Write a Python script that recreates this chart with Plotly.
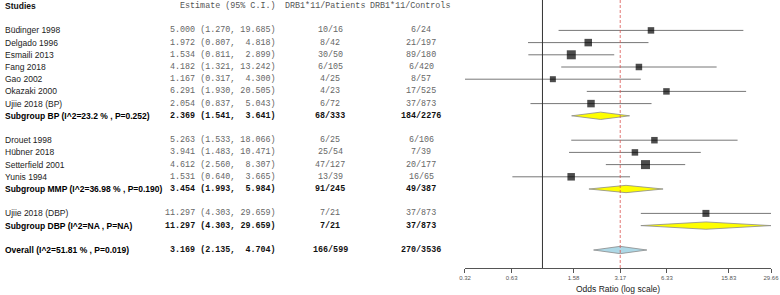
import math
import plotly.graph_objects as go

# ---------------- data ----------------
study_names = ["Büdinger 1998", "Delgado 1996", "Esmaili 2013", "Fang 2018", "Gao 2002",
               "Okazaki 2000", "Ujiie 2018 (BP)",
               "Drouet 1998", "Hübner 2018", "Setterfield 2001", "Yunis 1994",
               "Ujiie 2018 (DBP)"]
study_est = [5.000, 1.972, 1.534, 4.182, 1.167, 6.291, 2.054, 5.263, 3.941, 4.612, 1.531, 11.297]
study_lo = [1.270, 0.807, 0.811, 1.321, 0.317, 1.930, 0.837, 1.533, 1.483, 2.560, 0.640, 4.303]
study_hi = [19.685, 4.818, 2.899, 13.242, 4.300, 20.505, 5.043, 18.066, 10.471, 8.307, 3.665, 29.659]
study_patients = ["10/16", "8/42", "30/50", "6/105", "4/25", "4/23", "6/72",
                  "6/25", "25/54", "47/127", "13/39", "7/21"]
study_controls = ["6/24", "21/197", "89/180", "6/420", "8/57", "17/525", "37/873",
                  "6/106", "7/39", "20/177", "16/65", "37/873"]

summary_names = ["Subgroup BP (I^2=23.2 % , P=0.252)", "Subgroup MMP (I^2=36.98 % , P=0.190)",
                 "Subgroup DBP (I^2=NA , P=NA)", "Overall (I^2=51.81 % , P=0.019)"]
summary_est = [2.369, 3.454, 11.297, 3.169]
summary_lo = [1.541, 1.993, 4.303, 2.135]
summary_hi = [3.641, 5.984, 29.659, 4.704]
summary_patients = ["68/333", "91/245", "7/21", "166/599"]
summary_controls = ["184/2276", "49/387", "37/873", "270/3536"]

tick_values = [0.3169, 0.6338, 1.5845, 3.169, 6.338, 15.845, 29.659]
tick_labels = ["0.32", "0.63", "1.58", "3.17", "6.33", "15.83", "29.66"]

# ---------------- layout / style ----------------
W, H = 780, 295
study_rows = [2, 3, 4, 5, 6, 7, 8, 11, 12, 13, 14, 17]
summary_rows = [9, 15, 18, 20]
square_px = [6.5, 7.5, 9, 6.5, 6, 6.5, 7.5, 6.5, 6.5, 9, 7.5, 7]
diamond_fill = ["#FFFF00", "#FFFF00", "#FFFF00", "#ADD8E6"]
diamond_half = 0.3

plot_left, plot_right = 465, 771
axis_y_px = 268
row0_px, row_step = 6, 12.2
y_top = (0 - row0_px) / row_step
y_bot = (axis_y_px - row0_px) / row_step

name_x = 3
est_right = 278
pat_head_center = 325
con_head_center = 410
pat_center = 330
con_center = 421

name_font = "Liberation Sans, Arial, sans-serif"
mono_font = "Liberation Mono, Courier New, monospace"
name_size = 8.5
mono_size = 8.4

fig = go.Figure()

# CI lines
for r, lo, hi in zip(study_rows, study_lo, study_hi):
    fig.add_trace(go.Scatter(x=[lo, hi], y=[r, r], mode="lines",
                             line=dict(color="#777777", width=1),
                             hoverinfo="skip", showlegend=False))
# squares
fig.add_trace(go.Scatter(x=study_est, y=study_rows, mode="markers",
                         marker=dict(symbol="square", size=square_px, color="black",
                                     line=dict(width=0)),
                         showlegend=False, hoverinfo="skip"))
# diamonds
for r, e, lo, hi, fc in zip(summary_rows, summary_est, summary_lo, summary_hi, diamond_fill):
    fig.add_trace(go.Scatter(x=[lo, e, hi, e, lo], y=[r, r - diamond_half, r, r + diamond_half, r],
                             mode="lines", fill="toself", fillcolor=fc,
                             line=dict(color="#8a8a8a", width=0.8),
                             hoverinfo="skip", showlegend=False))

# reference lines
fig.add_shape(type="line", x0=1, x1=1, y0=y_top, y1=y_bot, xref="x", yref="y",
              line=dict(color="#333333", width=1))
fig.add_shape(type="line", x0=summary_est[-1], x1=summary_est[-1], y0=y_top, y1=y_bot,
              xref="x", yref="y", line=dict(color="#d9534f", width=0.8, dash="3px,2px"))

ann = []
def txt(x, y, s, anchor, font, size, color, bold=False, yref="y"):
    ann.append(dict(x=x / W, y=y, xref="paper", yref=yref, text=("<b>%s</b>" % s) if bold else s,
                    showarrow=False, xanchor=anchor, yanchor="middle",
                    font=dict(family=font, size=size, color=color)))

# headers
txt(name_x, 0, "Studies", "left", name_font, name_size, "#111", bold=True)
txt(est_right, 0, "Estimate (95% C.I.)", "right", mono_font, mono_size, "#555")
txt(pat_head_center, 0, "DRB1*11/Patients", "center", mono_font, mono_size, "#555")
txt(con_head_center, 0, "DRB1*11/Controls", "center", mono_font, mono_size, "#555")

def fmt(e, lo, hi):
    return "%.3f (%.3f, %6.3f)" % (e, lo, hi)

for i, r in enumerate(study_rows):
    txt(name_x, r, study_names[i], "left", name_font, name_size, "#222")
    txt(est_right, r, fmt(study_est[i], study_lo[i], study_hi[i]), "right", mono_font, mono_size, "#666")
    txt(pat_center, r, study_patients[i], "center", mono_font, mono_size, "#666")
    txt(con_center, r, study_controls[i], "center", mono_font, mono_size, "#666")
for i, r in enumerate(summary_rows):
    txt(name_x, r, summary_names[i], "left", name_font, name_size, "#000", bold=True)
    txt(est_right, r, fmt(summary_est[i], summary_lo[i], summary_hi[i]), "right", mono_font, mono_size, "#111", bold=True)
    txt(pat_center, r, summary_patients[i], "center", mono_font, mono_size, "#111", bold=True)
    txt(con_center, r, summary_controls[i], "center", mono_font, mono_size, "#111", bold=True)

# axis title
ann.append(dict(x=(plot_left + plot_right) / 2 / W, y=1 - 289 / H, xref="paper", yref="paper",
                text="Odds Ratio (log scale)", showarrow=False, xanchor="center", yanchor="middle",
                font=dict(family=name_font, size=8.5, color="#222")))

fig.update_layout(
    width=W, height=H, margin=dict(l=0, r=0, t=0, b=0),
    paper_bgcolor="white", plot_bgcolor="white",
    annotations=ann,
    xaxis=dict(type="log", range=[math.log10(0.317), math.log10(29.66)],
               domain=[plot_left / W, plot_right / W], showgrid=False, zeroline=False,
               showline=True, linecolor="#555", linewidth=1, ticks="outside", ticklen=4,
               tickcolor="#555", tickvals=tick_values, ticktext=tick_labels,
               tickfont=dict(family=name_font, size=6, color="#555"), automargin=False),
    yaxis=dict(range=[y_bot, y_top], domain=[1 - axis_y_px / H, 1], visible=False,
               automargin=False),
)

fig.write_html("out.html", config={"displayModeBar": False},
               post_script="document.body.style.margin='0';")
